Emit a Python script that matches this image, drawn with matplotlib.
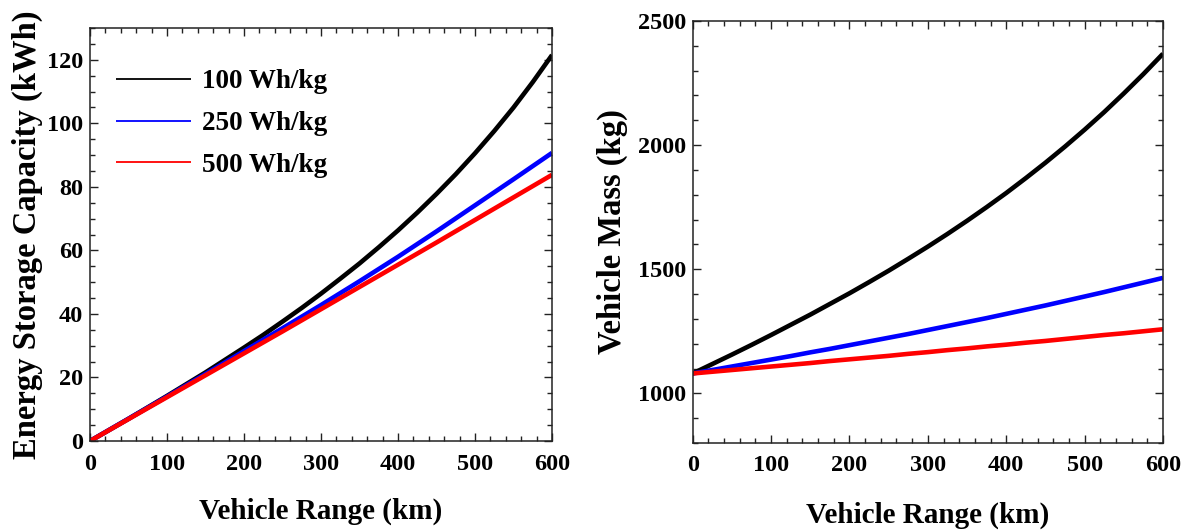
import matplotlib
matplotlib.use("Agg")
import matplotlib.pyplot as plt
from matplotlib.ticker import MultipleLocator

# Vehicle range (km)
range_km = [0, 25, 50, 75, 100, 125, 150, 175, 200, 225, 250, 275, 300,
            325, 350, 375, 400, 425, 450, 475, 500, 525, 550, 575, 600]

# Energy storage capacity (kWh) for each battery specific energy
energy_100 = [0, 3.5, 7.0, 10.6, 14.2, 17.9, 21.6, 25.5, 29.4, 33.4, 37.6, 41.9, 46.4,
              51.1, 55.9, 61.0, 66.3, 71.9, 77.8, 84.0, 90.6, 97.6, 105.0, 113.0, 121.5]
energy_250 = [0, 3.5, 7.0, 10.5, 14.0, 17.55, 21.1, 24.7, 28.3, 31.9, 35.5, 39.15, 42.8,
              46.55, 50.3, 54.15, 58.0, 62.0, 66.0, 70.1, 74.2, 78.3, 82.4, 86.55, 90.7]
energy_500 = [0, 3.45, 6.9, 10.35, 13.8, 17.25, 20.7, 24.15, 27.6, 31.05, 34.5, 38.0, 41.5,
              45.0, 48.5, 52.0, 55.5, 59.0, 62.5, 66.05, 69.6, 73.15, 76.7, 80.25, 83.8]

# Vehicle mass (kg) for each battery specific energy
mass_100 = [1080, 1118, 1156, 1195, 1235, 1276, 1317, 1360, 1403, 1448, 1494, 1542, 1591,
            1642, 1695, 1750, 1807, 1867, 1929, 1994, 2062, 2133, 2208, 2286, 2368]
mass_250 = [1080, 1094, 1108, 1122, 1136, 1150, 1165, 1179, 1194, 1209, 1224, 1239, 1255,
            1271, 1287, 1303, 1320, 1337, 1354, 1372, 1390, 1408, 1427, 1446, 1465]
mass_500 = [1080, 1087, 1094, 1101, 1108, 1115, 1122, 1130, 1137, 1144, 1151, 1159, 1166,
            1174, 1181, 1189, 1196, 1204, 1211, 1219, 1227, 1235, 1242, 1250, 1258]

series_labels = ["100 Wh/kg", "250 Wh/kg", "500 Wh/kg"]
series_colors = ["#000000", "#0000ff", "#ff0000"]

plt.rcParams["font.family"] = ["Liberation Serif", "DejaVu Serif"]
plt.rcParams["font.weight"] = "bold"

fig = plt.figure(figsize=(11.89, 5.30), dpi=100)
ax1 = fig.add_axes([0.0757, 0.1679, 0.3886, 0.7792])
ax2 = fig.add_axes([0.5826, 0.1642, 0.3955, 0.7962])


def style_axes(ax):
    for sp in ax.spines.values():
        sp.set_linewidth(1.1)
        sp.set_color("#222222")
    ax.tick_params(which="both", direction="in", top=True, right=True,
                   colors="#222222", width=1.0)
    ax.tick_params(which="major", length=6, labelsize=17.5, pad=9,
                   labelcolor="black")
    ax.tick_params(which="minor", length=3.5)
    ax.tick_params(axis="y", which="major", pad=5)
    for lab in ax.get_xticklabels() + ax.get_yticklabels():
        lab.set_fontweight("bold")


# Left panel: energy storage capacity
for ys, lab, col in zip([energy_100, energy_250, energy_500], series_labels, series_colors):
    ax1.plot(range_km, ys, color=col, lw=3.3, label=lab, solid_capstyle="butt")
ax1.set_xlim(0, 600)
ax1.set_ylim(0, 130)
ax1.xaxis.set_major_locator(MultipleLocator(100))
ax1.xaxis.set_minor_locator(MultipleLocator(20))
ax1.yaxis.set_major_locator(MultipleLocator(20))
ax1.yaxis.set_minor_locator(MultipleLocator(5))
style_axes(ax1)
ax1.set_xlabel("Vehicle Range (km)", fontsize=21, fontweight="bold", labelpad=17)
ax1.set_ylabel("Energy Storage Capacity (kWh)", fontsize=23.5, fontweight="bold", labelpad=3)

leg = ax1.legend(loc="upper left", bbox_to_anchor=(0.056, 0.90), frameon=False,
                 fontsize=19.5, handlelength=2.78, handletextpad=0.4,
                 labelspacing=0.62, borderpad=0, borderaxespad=0)
for line in leg.get_lines():
    line.set_linewidth(1.3)
for txt in leg.get_texts():
    txt.set_fontweight("bold")

# Right panel: vehicle mass
for ys, col in zip([mass_100, mass_250, mass_500], series_colors):
    ax2.plot(range_km, ys, color=col, lw=3.3, solid_capstyle="butt")
ax2.set_xlim(0, 600)
ax2.set_ylim(800, 2500)
ax2.xaxis.set_major_locator(MultipleLocator(100))
ax2.xaxis.set_minor_locator(MultipleLocator(20))
ax2.yaxis.set_major_locator(MultipleLocator(500))
ax2.yaxis.set_minor_locator(MultipleLocator(100))
style_axes(ax2)
ax2.set_xlabel("Vehicle Range (km)", fontsize=21, fontweight="bold", labelpad=18)
ax2.set_ylabel("Vehicle Mass (kg)", fontsize=23.5, fontweight="bold", labelpad=7)

fig.savefig("out.png", dpi=100)
